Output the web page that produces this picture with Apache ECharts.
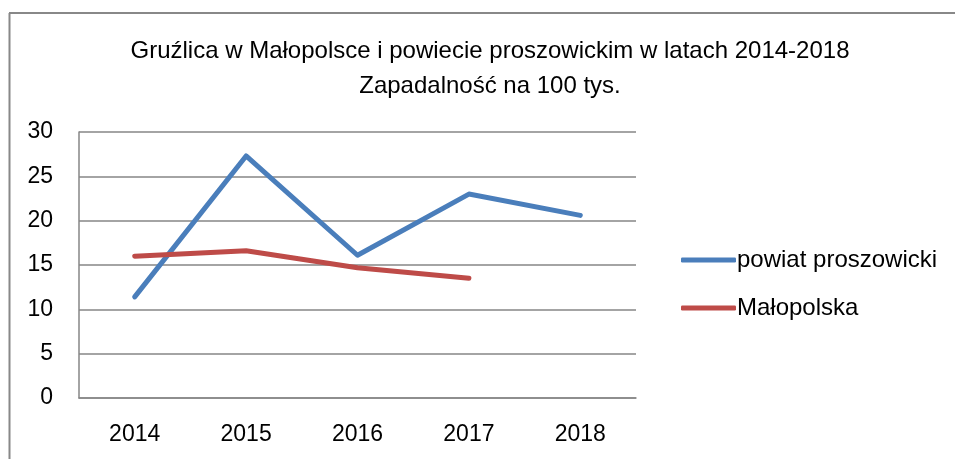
<!DOCTYPE html>
<html>
<head>
<meta charset="utf-8">
<script src="https://cdn.jsdelivr.net/npm/echarts@6/dist/echarts.min.js"></script>
<style>
  html, body { margin: 0; padding: 0; background: #fff; }
  #main { width: 955px; height: 459px; }
</style>
</head>
<body>
<div id="main"></div>
<script>
// dane
var years = ['2014', '2015', '2016', '2017', '2018'];
var powiat = [11.4, 27.3, 16.1, 23.0, 20.6];
var malopolska = [16.0, 16.6, 14.7, 13.5, null];
var yTicks = [0, 5, 10, 15, 20, 25, 30];

var font = 'Liberation Sans';
var myChart = echarts.init(document.getElementById('main'));

var option = {
    backgroundColor: '#fff',
    animation: false,
    title: {
        text: 'Gruźlica w Małopolsce i powiecie proszowickim w latach 2014-2018\nZapadalność na 100 tys.',
        left: 485,
        top: 29,
        textAlign: 'center',
        textStyle: {
            fontFamily: font,
            fontSize: 24,
            fontWeight: 'normal',
            color: '#000',
            lineHeight: 35
        }
    },
    graphic: [
        { type: 'line', shape: { x1: 9.5, y1: 13, x2: 9.5, y2: 459 }, style: { stroke: '#888', lineWidth: 2 } },
        { type: 'line', shape: { x1: 9, y1: 13, x2: 955, y2: 13 }, style: { stroke: '#888', lineWidth: 2 } }
    ],
    legend: {
        orient: 'vertical',
        left: 676,
        top: 241,
        icon: 'roundRect',
        itemWidth: 55,
        itemHeight: 5,
        itemGap: 20,
        textStyle: { fontFamily: font, fontSize: 24, color: '#000', lineHeight: 28, padding: [0, 0, 0, -4] },
        data: ['powiat proszowicki', 'Małopolska']
    },
    grid: { left: 79, right: 319, top: 132, bottom: 61 },
    xAxis: {
        type: 'category',
        data: years,
        boundaryGap: true,
        axisLine: { lineStyle: { color: '#868686', width: 1.5 } },
        axisTick: { show: false },
        axisLabel: { fontFamily: font, fontSize: 23, color: '#000', margin: 25 }
    },
    yAxis: {
        type: 'value',
        min: yTicks[0],
        max: yTicks[yTicks.length - 1],
        interval: 5,
        axisLine: { show: true, lineStyle: { color: '#868686', width: 1.5 } },
        axisTick: { show: false },
        axisLabel: { fontFamily: font, fontSize: 23, color: '#000', margin: 26 },
        splitLine: { lineStyle: { color: '#868686', width: 1.5 } }
    },
    series: [
        {
            name: 'powiat proszowicki',
            type: 'line',
            data: powiat,
            symbol: 'none',
            color: '#4a7ebb',
            lineStyle: { width: 5, cap: 'round', join: 'round' }
        },
        {
            name: 'Małopolska',
            type: 'line',
            data: malopolska,
            symbol: 'none',
            color: '#be4b48',
            lineStyle: { width: 5, cap: 'round', join: 'round' }
        }
    ]
};
myChart.setOption(option);
</script>
</body>
</html>
